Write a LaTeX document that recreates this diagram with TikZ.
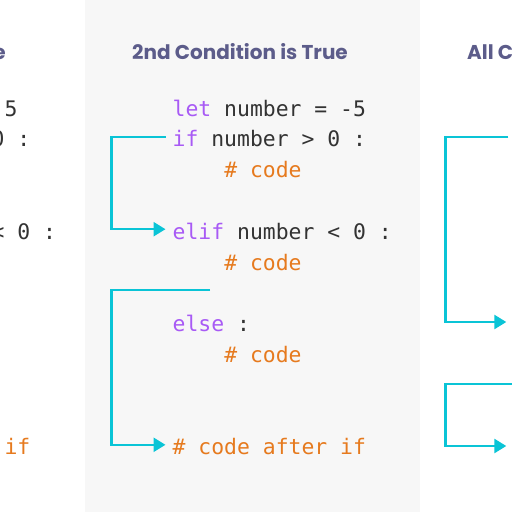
\documentclass[tikz,border=0pt]{standalone}
\usepackage{fontspec}
\usetikzlibrary{arrows.meta}
\newfontfamily\codefont{DejaVu Sans Mono}
\newfontfamily\titlefont{Poppins}
\begin{document}
\begin{tikzpicture}[x=1pt,y=-1pt,
  code/.style={font=\codefont\fontsize{21.4}{25}\selectfont,anchor=base west,inner sep=0pt,text height=20pt,text depth=0pt,text=codegray},
  kw/.style={code,text=kwpurple},
  cmt/.style={code,text=cmtorange},
  heading/.style={font=\titlefont\bfseries\fontsize{20}{24}\selectfont,inner sep=0pt,text=titleblue},
  flow/.style={draw=flowcyan,line width=2.5pt,-{Triangle[length=12pt,width=14pt]}}]
\definecolor{panelgray}{RGB}{247,247,247}
\definecolor{codegray}{RGB}{51,51,51}
\definecolor{kwpurple}{RGB}{168,90,245}
\definecolor{cmtorange}{RGB}{230,122,30}
\definecolor{titleblue}{RGB}{92,92,138}
\definecolor{flowcyan}{RGB}{10,196,214}
\useasboundingbox (0,0) rectangle (512,512);
\clip (0,0) rectangle (512,512);
\fill[white] (0,0) rectangle (512,512);
\fill[panelgray] (85,0) rectangle (420,512);
\node[heading,anchor=base east] (tl) at (6,59.3) {e};
\node[code] (l0) at (4.4,116) {5};
\node[code] (l1) at (-8.5,146.8) {0 :};
\node[code] (l4) at (-8.5,239.2) {< 0 :};
\node[cmt] (l11) at (4.4,454.8) {if};
\node[heading,anchor=base] (tm) at (240,59.3) {2nd Condition is True};
\node[code] (m0) at (172.5,116) {\textcolor{kwpurple}{let} number = -5};
\node[code] (m1) at (172.5,146.8) {\textcolor{kwpurple}{if} number > 0 :};
\node[cmt] (m2) at (224.1,177.6) {\# code};
\node[code] (m4) at (172.5,239.2) {\textcolor{kwpurple}{elif} number < 0 :};
\node[cmt] (m5) at (224.1,270) {\# code};
\node[code] (m7) at (172.5,331.6) {\textcolor{kwpurple}{else} :};
\node[cmt] (m8) at (224.1,362.4) {\# code};
\node[cmt] (m11) at (172.5,454.8) {\# code after if};
\coordinate (mgo) at (210,290);
\draw[flow] ([xshift=-7pt]m1.west) -- ++(-54,0) |- ([xshift=-7pt]m4.west);
\draw[flow] (mgo) -| (111.5,330) |- ([xshift=-7pt]m11.west);
\node[heading,anchor=base west] (tr) at (467,59.3) {All C};
\coordinate (r1) at (508.3,137);
\coordinate (r7) at (508.3,322);
\coordinate (rgo) at (530,384);
\coordinate (r11) at (508.3,446);
\draw[flow] (r1) -- ++(-63,0) |- ([xshift=-2pt]r7);
\draw[flow] (rgo) -| (445.3,420) |- ([xshift=-2pt]r11);
\end{tikzpicture}
\end{document}
